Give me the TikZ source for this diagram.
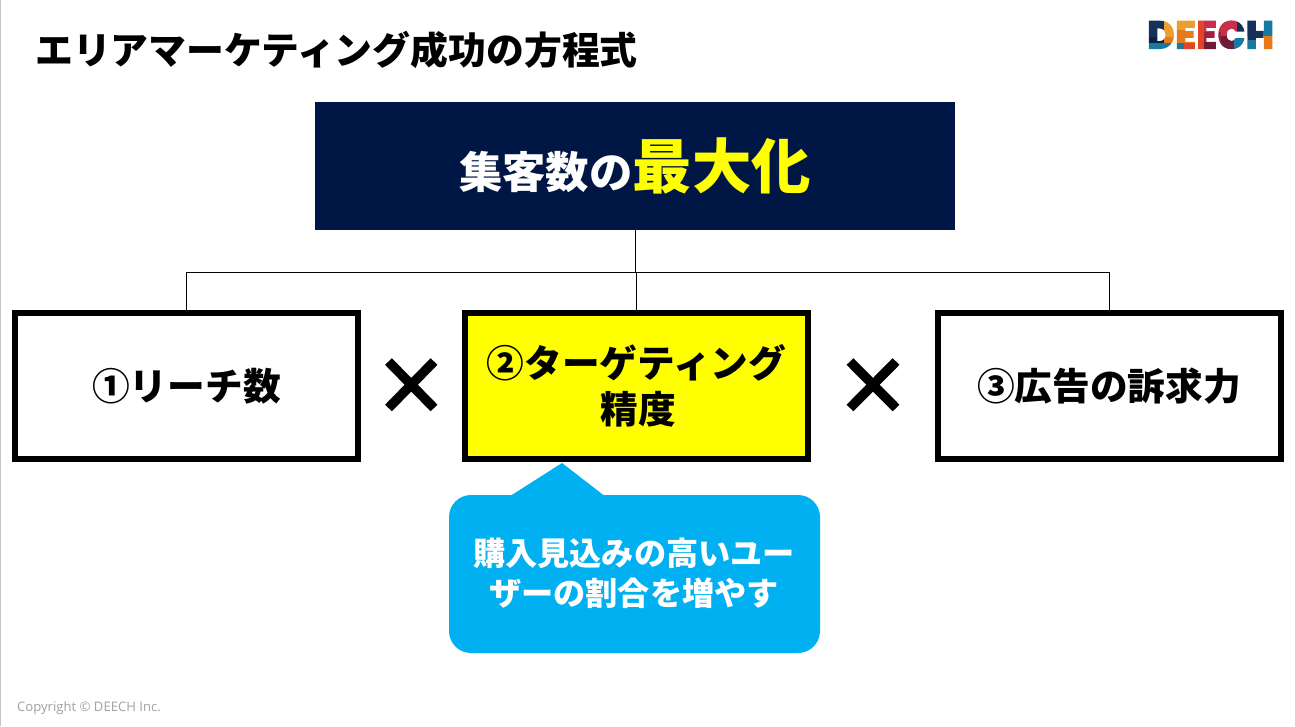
\documentclass[tikz,border=0pt]{standalone}
\usepackage{fontspec}
\setmainfont{Noto Sans CJK JP}
\newfontfamily\latinfont{Open Sans}
\newfontfamily\logofont{Poppins}[UprightFont=* Black,FakeStretch=0.945]
\definecolor{navy}{HTML}{001746}
\definecolor{calloutblue}{HTML}{00B0F0}
\definecolor{markyellow}{HTML}{FFFF00}
\definecolor{edgegray}{HTML}{C4C4C4}
\definecolor{copygray}{HTML}{A0A0A0}
\definecolor{logoNavy}{HTML}{16305A}
\definecolor{logoDark}{HTML}{0E2240}
\definecolor{logoYellow}{HTML}{E9A030}
\definecolor{logoOrange}{HTML}{E67A1A}
\definecolor{logoRedOrange}{HTML}{E0452A}
\definecolor{logoRed}{HTML}{C8304A}
\definecolor{logoWine}{HTML}{A02040}
\definecolor{logoMaroon}{HTML}{701A38}
\definecolor{logoTeal}{HTML}{1878A0}
\tikzset{
  factor/.style={draw=black,line width=6pt,fill=white,minimum width=343pt,minimum height=146pt,inner sep=0pt,outer sep=0pt,align=center,font=\bfseries\fontsize{37.7}{46}\selectfont},
  link/.style={draw=black,line width=1pt},
  timesbar/.style={line width=9.5pt,black}
}
\begin{document}
\begin{tikzpicture}[x=1pt,y=-1pt]
\useasboundingbox (0,0) rectangle (1295,726);
\fill[white] (0,0) rectangle (1295,726);
\draw[edgegray,line width=1.2pt] (0.6,0) -- (0.6,726);
\node[anchor=west,inner sep=0pt,font=\bfseries\fontsize{37.85}{40}\selectfont] (title) at (35,50) {エリアマーケティング成功の方程式};
\node[fill=navy,minimum width=640pt,minimum height=128pt,inner sep=0pt,outer sep=0pt,text=white,font=\bfseries\fontsize{43.4}{50}\selectfont] (top) at (635,166) {集客数の{\fontsize{59.4}{60}\selectfont\color{markyellow}最大化}};
\coordinate (junction) at (635.8,272);
\node[factor] (a) at (186.5,386) {①リーチ数};
\node[factor,fill=markyellow] (b) at (636.5,386) {②ターゲティング\\\hspace*{3pt}精度};
\node[factor] (c) at (1109,386) {③広告の訴求力};
\draw[link] (top.south -| junction) -- (junction);
\draw[link] (junction) -| (a.north);
\draw[link] (junction) -| (b.north);
\draw[link] (junction) -| (c.north);
\draw[timesbar] (388.5,361.5) -- (434,408);
\draw[timesbar] (434,361.5) -- (388.5,408);
\draw[timesbar] (850,361.5) -- (896,408);
\draw[timesbar] (896,361.5) -- (850,408);
\fill[calloutblue,rounded corners=22pt] (449,495) rectangle (820,653);
\fill[calloutblue] (511,495.5) -- (562,463) -- (604,495.5) -- cycle;
\node[text=white,align=center,inner sep=0pt,font=\bfseries\fontsize{32.2}{40}\selectfont] (note) at (634,573) {購入見込みの高いユー\\ザーの割合を増やす};
\node[anchor=west,inner sep=0pt,text=copygray,font=\latinfont\fontsize{13.1}{14}\selectfont] (copy) at (17,708) {Copyright © DEECH Inc.};
\node[anchor=base west,inner sep=0pt,outer sep=0pt,font=\logofont\fontsize{40}{40}\selectfont] (logo) at (1146.5,49) {\rlap{\special{pdf:code 7 Tr}DEECH\special{pdf:code 0 Tr}}\begin{tikzpicture}[overlay,x=1pt,y=-1pt,shift={(-1146.5pt,49pt)}]
  \fill[logoNavy] (1140,15) rectangle (1163,37);
  \fill[logoDark] (1140,37) rectangle (1163,43);
  \fill[logoYellow] (1163,15) rectangle (1174.5,37);
  \fill[logoOrange] (1163,37) rectangle (1174.5,43);
  \fill[logoTeal] (1140,43) rectangle (1183,55);
  \fill[logoYellow] (1174.5,15) rectangle (1197.5,30);
  \fill[logoOrange] (1174.5,30) rectangle (1197.5,43);
  \fill[logoRedOrange] (1183,43) rectangle (1197.5,55);
  \fill[logoRedOrange] (1197.5,15) rectangle (1203,55);
  \fill[logoRed] (1203,15) rectangle (1220,32);
  \fill[logoWine] (1203,32) rectangle (1220,42);
  \fill[logoMaroon] (1203,42) rectangle (1220,55);
  \fill[logoRed] (1220,15) rectangle (1236,36);
  \fill[logoNavy] (1236,15) rectangle (1247.5,36);
  \fill[logoMaroon] (1220,36) rectangle (1233,55);
  \fill[logoTeal] (1233,36) rectangle (1247.5,55);
  \fill[logoNavy] (1247.5,15) rectangle (1262,40);
  \fill[logoTeal] (1247.5,40) rectangle (1262,55);
  \fill[logoTeal] (1262,15) rectangle (1285,36);
  \fill[logoOrange] (1262,36) rectangle (1285,55);
\end{tikzpicture}};
\end{tikzpicture}
\end{document}
